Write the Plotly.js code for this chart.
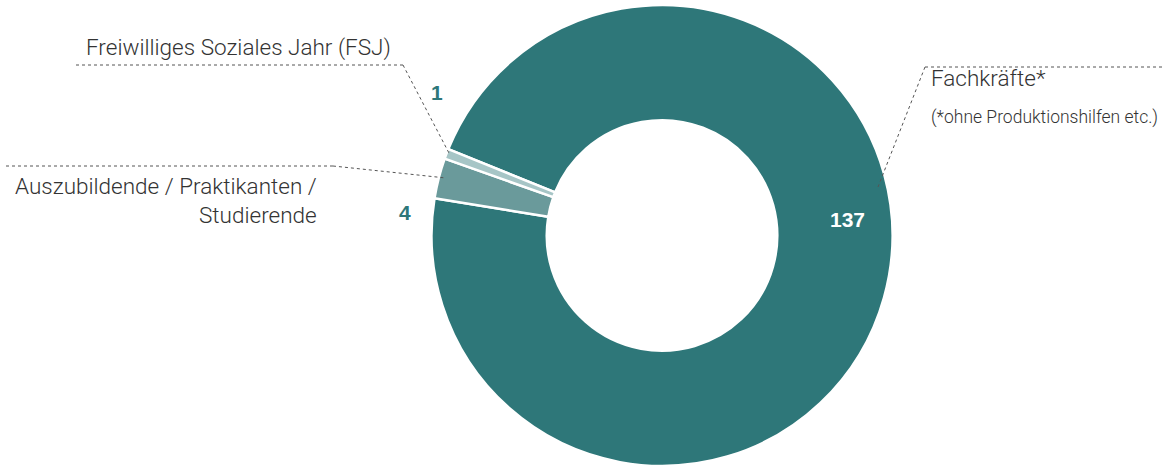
<!DOCTYPE html>
<html>
<head>
<meta charset="utf-8">
<script src="https://cdn.plot.ly/plotly-3.0.1.min.js"></script>
<style>html,body{margin:0;padding:0;background:#fff}#chart{width:1164px;height:466px}</style>
</head>
<body>
<div id="chart"></div>
<script>
const categories = ["Fachkräfte*", "Auszubildende / Praktikanten /<br>Studierende", "Freiwilliges Soziales Jahr (FSJ)"];
const values = [137, 4, 1];
const colors = ["#2e7779", "#6a9a9b", "#a6c5c6"];
const footnote = "(*ohne Produktionshilfen etc.)";

const W = 1164, H = 466;
const cx = 662, cy = 235.5, R = 230.5;
const px = x => x / W, py = y => 1 - y / H;

const trace = {
  type: "pie",
  labels: categories,
  values: values,
  sort: false,
  direction: "clockwise",
  rotation: 292,
  hole: 0.5,
  textinfo: "none",
  hoverinfo: "label+value",
  marker: {colors: colors, line: {color: "#ffffff", width: 2.5}},
  domain: {x: [px(cx - R), px(cx + R)], y: [0, py(cy - R)]},
  showlegend: false
};

const txtFont = {family: "Roboto, 'Liberation Sans', sans-serif", size: 22.5, color: "#333333", weight: 300};
const numFont = {family: "'Liberation Sans', Arial, sans-serif", size: 21, color: "#2e7779", weight: 700};

const annotations = [
  {x: px(393), y: py(48), text: categories[2], xanchor: "right", yanchor: "middle", font: txtFont},
  {x: px(319), y: py(201), text: categories[1], xanchor: "right", yanchor: "middle", align: "right", font: txtFont},
  {x: px(929), y: py(78), text: categories[0], xanchor: "left", yanchor: "middle", font: txtFont},
  {x: px(929), y: py(117), text: footnote, xanchor: "left", yanchor: "middle", font: Object.assign({}, txtFont, {size: 17.5})},
  {x: px(437), y: py(92), text: String(values[2]), xanchor: "center", yanchor: "middle", font: numFont},
  {x: px(405), y: py(212), text: String(values[1]), xanchor: "center", yanchor: "middle", font: numFont},
  {x: px(847), y: py(219), text: String(values[0]), xanchor: "center", yanchor: "middle", font: Object.assign({}, numFont, {color: "#ffffff"})}
].map(a => Object.assign({xref: "paper", yref: "paper", showarrow: false}, a));

const dotLine = {color: "#555555", width: 1, dash: "dot"};
const seg = (x0, y0, x1, y1) => ({type: "line", xref: "paper", yref: "paper", x0: px(x0), y0: py(y0), x1: px(x1), y1: py(y1), line: dotLine});
const shapes = [
  seg(76, 65, 403, 65), seg(403, 65, 450, 155),
  seg(6, 166, 333, 166), seg(333, 166, 446, 178),
  seg(925, 67, 1164, 67), seg(925, 67, 878, 187)
];

Plotly.newPlot("chart", [trace], {
  width: W, height: H,
  margin: {l: 0, r: 0, t: 0, b: 0},
  paper_bgcolor: "#ffffff",
  plot_bgcolor: "#ffffff",
  annotations: annotations,
  shapes: shapes
}, {displayModeBar: false, staticPlot: true});
</script>
</body>
</html>
